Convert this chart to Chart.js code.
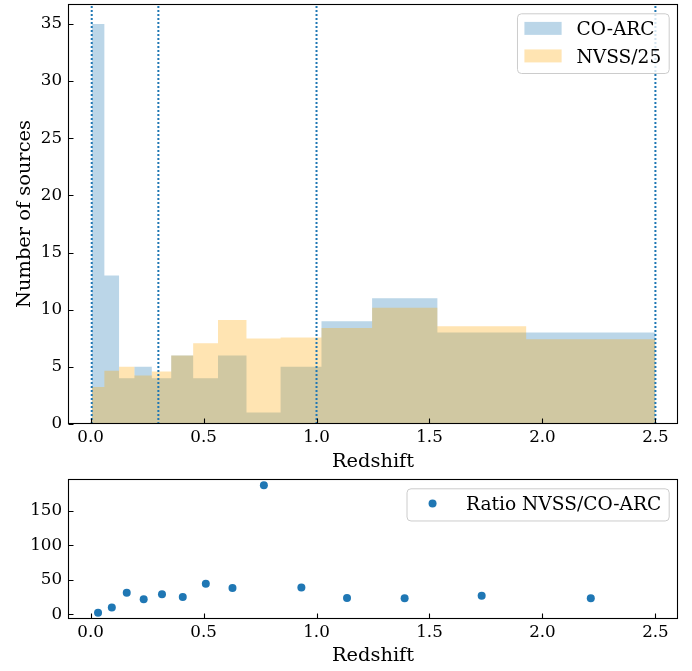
<!DOCTYPE html>
<html>
<head>
<meta charset="utf-8">
<script src="https://cdn.jsdelivr.net/npm/chart.js@4.4.0/dist/chart.umd.min.js"></script>
<style>
    body { margin: 0; background: #fff; }
    #wrap { position: relative; width: 692px; height: 671px; }
    canvas { position: absolute; left: 0; }
    #hist { top: 0; }
    #ratio { top: 474px; }
</style>
</head>
<body>
<div id="wrap">
    <canvas id="hist" width="692" height="474"></canvas>
    <canvas id="ratio" width="692" height="197"></canvas>
</div>
<script>
// --- Data ---
const binEdges = [0.005, 0.061, 0.126, 0.194, 0.271, 0.357, 0.454, 0.564, 0.690, 0.841, 1.022, 1.246, 1.535, 1.928, 2.5];
const coarcCounts = [35, 13, 4, 5, 4, 6, 4, 6, 1, 5, 9, 11, 8, 8];
const nvssOver25 = [3.24, 4.65, 5.0, 4.24, 4.6, 6.0, 7.07, 9.09, 7.48, 7.57, 8.4, 10.17, 8.56, 7.42];
const zLines = [0.005, 0.3, 1.0, 2.5];

const ratioZ = [0.033, 0.094, 0.160, 0.235, 0.316, 0.408, 0.510, 0.628, 0.767, 0.933, 1.135, 1.39, 1.731, 2.214];
const ratioVals = [2.3, 9.6, 31.3, 21.7, 29.0, 25.0, 44.3, 38.1, 187, 38.6, 23.6, 23.1, 26.8, 23.2];

const xTicks = [0, 0.5, 1.0, 1.5, 2.0, 2.5];
const histYTicks = [0, 5, 10, 15, 20, 25, 30, 35];
const ratioYTicks = [0, 50, 100, 150];

// --- Style ---
const FONT = "'DejaVu Serif', serif";
const TICK_SIZE = 16.7;
const LABEL_SIZE = 19.4;
const LEGEND_SIZE = 18.6;
const BLUE = '#1f77b4';
const BLUE_FILL = 'rgba(31, 119, 180, 0.3)';
const ORANGE_FILL = 'rgba(255, 165, 0, 0.3)';

Chart.defaults.font.family = FONT;
Chart.defaults.color = '#000';

// histogram outline as a stepped line: each value holds until the next edge
function stepPoints(edges, values) {
    return edges.map((e, i) => ({ x: e, y: values[Math.min(i, values.length - 1)] }));
}

// matplotlib-like frame with inward ticks
const framePlugin = {
    id: 'frame',
    afterDatasetsDraw(chart) {
        const { ctx, chartArea: a, scales } = chart;
        ctx.save();
        ctx.strokeStyle = '#000';
        ctx.lineWidth = 1.1;
        const l = Math.round(a.left) + 0.5, r = Math.round(a.right) - 0.5;
        const t = Math.round(a.top) + 0.5, b = Math.round(a.bottom) - 0.5;
        ctx.strokeRect(l, t, r - l, b - t);
        ctx.beginPath();
        scales.x.ticks.forEach(tk => {
            const px = Math.round(scales.x.getPixelForValue(tk.value)) + 0.5;
            ctx.moveTo(px, b);
            ctx.lineTo(px, b - 5);
        });
        scales.y.ticks.forEach(tk => {
            const py = Math.round(scales.y.getPixelForValue(tk.value)) + 0.5;
            ctx.moveTo(l, py);
            ctx.lineTo(l + 5, py);
        });
        ctx.stroke();
        ctx.restore();
    }
};

// legend in the upper right corner, matplotlib proportions
const legendPlugin = {
    id: 'mplLegend',
    afterDraw(chart, args, opts) {
        const items = opts.items || [];
        if (!items.length) return;
        const { ctx, chartArea: a } = chart;
        const fs = LEGEND_SIZE;
        const pad = 0.4 * fs, handleLen = 2 * fs, textPad = 0.8 * fs, axPad = 0.5 * fs;
        const rowH = 17.3, rowGap = 0.55 * fs;
        ctx.save();
        ctx.font = `${fs}px ${FONT}`;
        const textW = Math.max(...items.map(it => ctx.measureText(it.label).width));
        const w = pad * 2 + handleLen + textPad + textW;
        const h = pad * 2 + items.length * rowH + (items.length - 1) * rowGap;
        const x0 = a.right - axPad - w;
        const y0 = a.top + axPad;

        ctx.beginPath();
        ctx.roundRect(x0 + 0.5, y0 + 0.5, w, h, 4);
        ctx.fillStyle = 'rgba(255,255,255,0.8)';
        ctx.fill();
        ctx.strokeStyle = '#cccccc';
        ctx.lineWidth = 1;
        ctx.stroke();

        items.forEach((it, i) => {
            const cy = y0 + pad + rowH / 2 + i * (rowH + rowGap) - 1;
            const hx = x0 + pad;
            if (it.type === 'patch') {
                ctx.fillStyle = it.color;
                ctx.fillRect(hx, cy - 6.5, handleLen, 13);
            } else {
                ctx.fillStyle = it.color;
                ctx.beginPath();
                ctx.arc(hx + handleLen / 2, cy, 4, 0, Math.PI * 2);
                ctx.fill();
            }
            ctx.fillStyle = '#000';
            ctx.textBaseline = 'alphabetic';
            ctx.textAlign = 'left';
            ctx.fillText(it.label, hx + handleLen + textPad, cy + 0.365 * fs);
        });
        ctx.restore();
    }
};

function xScale(height, titlePad) {
    return {
        type: 'linear',
        min: -0.1,
        max: 2.6,
        afterBuildTicks: s => { s.ticks = xTicks.map(v => ({ value: v })); },
        afterFit: s => { s.height = height; s.paddingLeft = 0; s.paddingRight = 0; },
        grid: { display: false, drawTicks: false },
        border: { display: false },
        ticks: {
            font: { size: TICK_SIZE },
            color: '#000',
            padding: 4,
            maxRotation: 0,
            autoSkip: false,
            callback: v => v.toFixed(1)
        },
        title: {
            display: true,
            text: 'Redshift',
            color: '#000',
            font: { size: LABEL_SIZE, lineHeight: 1.2 },
            padding: { top: 0, bottom: titlePad }
        }
    };
}

function yScale(min, max, tickList, title) {
    return {
        type: 'linear',
        min: min,
        max: max,
        afterBuildTicks: s => { s.ticks = tickList.map(v => ({ value: v })); },
        afterFit: s => { s.width = 68; s.paddingTop = 0; s.paddingBottom = 0; },
        grid: { display: false, drawTicks: false },
        border: { display: false },
        ticks: {
            font: { size: TICK_SIZE },
            color: '#000',
            padding: 6,
            callback: v => String(v)
        },
        title: {
            display: !!title,
            text: title || '',
            color: '#000',
            font: { size: LABEL_SIZE, lineHeight: 1.2 },
            padding: { top: 13, bottom: 0 }
        }
    };
}

// --- Top: histograms ---
const lineSets = zLines.map(z => ({
    label: 'z=' + z,
    data: [{ x: z, y: 0 }, { x: z, y: 36.75 }],
    borderColor: BLUE,
    borderWidth: 2,
    borderDash: [2, 2],
    pointRadius: 0,
    fill: false,
    order: 1
}));

new Chart(document.getElementById('hist'), {
    type: 'line',
    data: {
        datasets: [
            {
                label: 'CO-ARC',
                data: stepPoints(binEdges, coarcCounts),
                stepped: 'before',
                fill: 'origin',
                backgroundColor: BLUE_FILL,
                borderColor: 'rgba(0,0,0,0)',
                borderWidth: 0,
                pointRadius: 0,
                order: 3
            },
            {
                label: 'NVSS/25',
                data: stepPoints(binEdges, nvssOver25),
                stepped: 'before',
                fill: 'origin',
                backgroundColor: ORANGE_FILL,
                borderColor: 'rgba(0,0,0,0)',
                borderWidth: 0,
                pointRadius: 0,
                order: 2
            },
            ...lineSets
        ]
    },
    options: {
        responsive: false,
        animation: false,
        events: [],
        layout: { padding: { left: 0, right: 14, top: 4, bottom: 0 } },
        scales: {
            x: xScale(50, 0),
            y: yScale(0, 36.75, histYTicks, 'Number of sources')
        },
        plugins: {
            legend: { display: false },
            tooltip: { enabled: false },
            mplLegend: {
                items: [
                    { label: 'CO-ARC', type: 'patch', color: BLUE_FILL },
                    { label: 'NVSS/25', type: 'patch', color: ORANGE_FILL }
                ]
            }
        }
    },
    plugins: [framePlugin, legendPlugin]
});

// --- Bottom: ratio ---
new Chart(document.getElementById('ratio'), {
    type: 'scatter',
    data: {
        datasets: [{
            label: 'Ratio NVSS/CO-ARC',
            data: ratioZ.map((z, i) => ({ x: z, y: ratioVals[i] })),
            backgroundColor: BLUE,
            borderWidth: 0,
            pointRadius: 4
        }]
    },
    options: {
        responsive: false,
        animation: false,
        events: [],
        layout: { padding: { left: 0, right: 14, top: 5, bottom: 0 } },
        scales: {
            x: xScale(52, 3),
            y: yScale(-6.9, 196, ratioYTicks, null)
        },
        plugins: {
            legend: { display: false },
            tooltip: { enabled: false },
            mplLegend: {
                items: [{ label: 'Ratio NVSS/CO-ARC', type: 'marker', color: BLUE }]
            }
        }
    },
    plugins: [framePlugin, legendPlugin]
});
</script>
</body>
</html>
